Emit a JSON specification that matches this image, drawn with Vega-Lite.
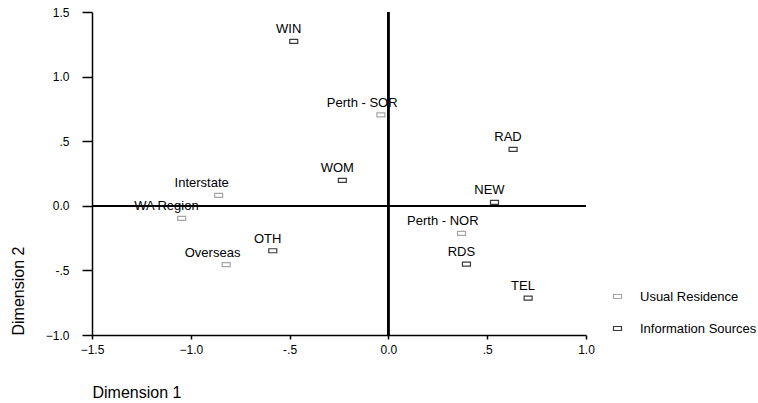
{
  "$schema": "https://vega.github.io/schema/vega-lite/v6.json",
  "width": 494,
  "height": 323,
  "autosize": {"type": "none"},
  "padding": {"left": 92, "top": 12, "right": 172, "bottom": 68},
  "background": "white",
  "config": {"view": {"stroke": null}, "font": "Liberation Sans"},
  "data": {
    "values": [
      {"label": "WIN", "type": "Information Sources", "x": -0.479, "y": 1.272},
      {"label": "Perth - SOR", "type": "Usual Residence", "x": -0.038, "y": 0.704},
      {"label": "RAD", "type": "Information Sources", "x": 0.631, "y": 0.437},
      {"label": "WOM", "type": "Information Sources", "x": -0.233, "y": 0.197},
      {"label": "Interstate", "type": "Usual Residence", "x": -0.859, "y": 0.081},
      {"label": "NEW", "type": "Information Sources", "x": 0.537, "y": 0.027},
      {"label": "WA Region", "type": "Usual Residence", "x": -1.046, "y": -0.097},
      {"label": "Perth - NOR", "type": "Usual Residence", "x": 0.370, "y": -0.213},
      {"label": "OTH", "type": "Information Sources", "x": -0.585, "y": -0.348},
      {"label": "Overseas", "type": "Usual Residence", "x": -0.821, "y": -0.456},
      {"label": "RDS", "type": "Information Sources", "x": 0.395, "y": -0.452},
      {"label": "TEL", "type": "Information Sources", "x": 0.707, "y": -0.715}
    ]
  },
  "layer": [
    {
      "mark": {"type": "rule", "color": "black", "strokeWidth": 1.5},
      "encoding": {"x": {"datum": 0, "type": "quantitative"}}
    },
    {
      "mark": {"type": "rule", "color": "black", "strokeWidth": 1.5},
      "encoding": {"y": {"datum": 0, "type": "quantitative"}}
    },
    {
      "mark": {"type": "point", "shape": "M-1,-0.5H1V0.5H-1Z", "filled": false, "fill": "white", "size": 64, "strokeWidth": 1.2, "opacity": 1},
      "encoding": {
        "x": {
          "field": "x", "type": "quantitative",
          "scale": {"domain": [-1.5, 1.0], "nice": false, "zero": false},
          "axis": {
            "title": "Dimension 1", "values": [-1.5, -1, -0.5, 0, 0.5, 1],
            "labelExpr": "datum.value == 0.5 ? '.5' : datum.value == -0.5 ? '-.5' : format(datum.value, '.1f')",
            "grid": false, "domainColor": "black", "domainWidth": 1.5,
            "tickColor": "black", "tickWidth": 1.5, "tickSize": 4,
            "labelFontSize": 12, "labelColor": "black", "labelPadding": 5,
            "labelFlush": false, "labelOverlap": false,
            "titleFontSize": 16, "titleFontWeight": "normal", "titleColor": "black",
            "titleAnchor": "start", "titleAlign": "left", "titleX": 0, "titleY": 62, "titleBaseline": "alphabetic"
          }
        },
        "y": {
          "field": "y", "type": "quantitative",
          "scale": {"domain": [-1.0, 1.5], "nice": false, "zero": false},
          "axis": {
            "title": "Dimension 2", "values": [-1, -0.5, 0, 0.5, 1, 1.5],
            "labelExpr": "datum.value == 0.5 ? '.5' : datum.value == -0.5 ? '-.5' : format(datum.value, '.1f')",
            "grid": false, "domainColor": "black", "domainWidth": 1.5,
            "tickColor": "black", "tickWidth": 1.5, "tickSize": 10,
            "labelFontSize": 12, "labelColor": "black", "labelPadding": 13,
            "labelFlush": false, "labelOverlap": false,
            "titleFontSize": 16, "titleFontWeight": "normal", "titleColor": "black",
            "titleAngle": -90, "titleAlign": "left", "titleX": -69, "titleY": 323, "titleBaseline": "alphabetic"
          }
        },
        "stroke": {
          "field": "type", "type": "nominal",
          "scale": {"domain": ["Usual Residence", "Information Sources"], "range": ["#a6a6a6", "#3a3a3a"]},
          "legend": {
            "title": null, "orient": "none", "legendX": 519, "legendY": 278,
            "labelFontSize": 13, "labelColor": "black", "labelOffset": 16, "rowPadding": 18,
            "symbolType": "M-1,-0.5H1V0.5H-1Z", "symbolSize": 64, "symbolStrokeWidth": 1.2, "symbolFillColor": "white"
          }
        }
      }
    },
    {
      "mark": {"type": "text", "align": "center", "baseline": "alphabetic", "dy": -8, "dx": {"expr": "-1.7*length(datum.label)"}, "fontSize": 13, "color": "black"},
      "encoding": {
        "x": {"field": "x", "type": "quantitative"},
        "y": {"field": "y", "type": "quantitative"},
        "text": {"field": "label"}
      }
    }
  ]
}
